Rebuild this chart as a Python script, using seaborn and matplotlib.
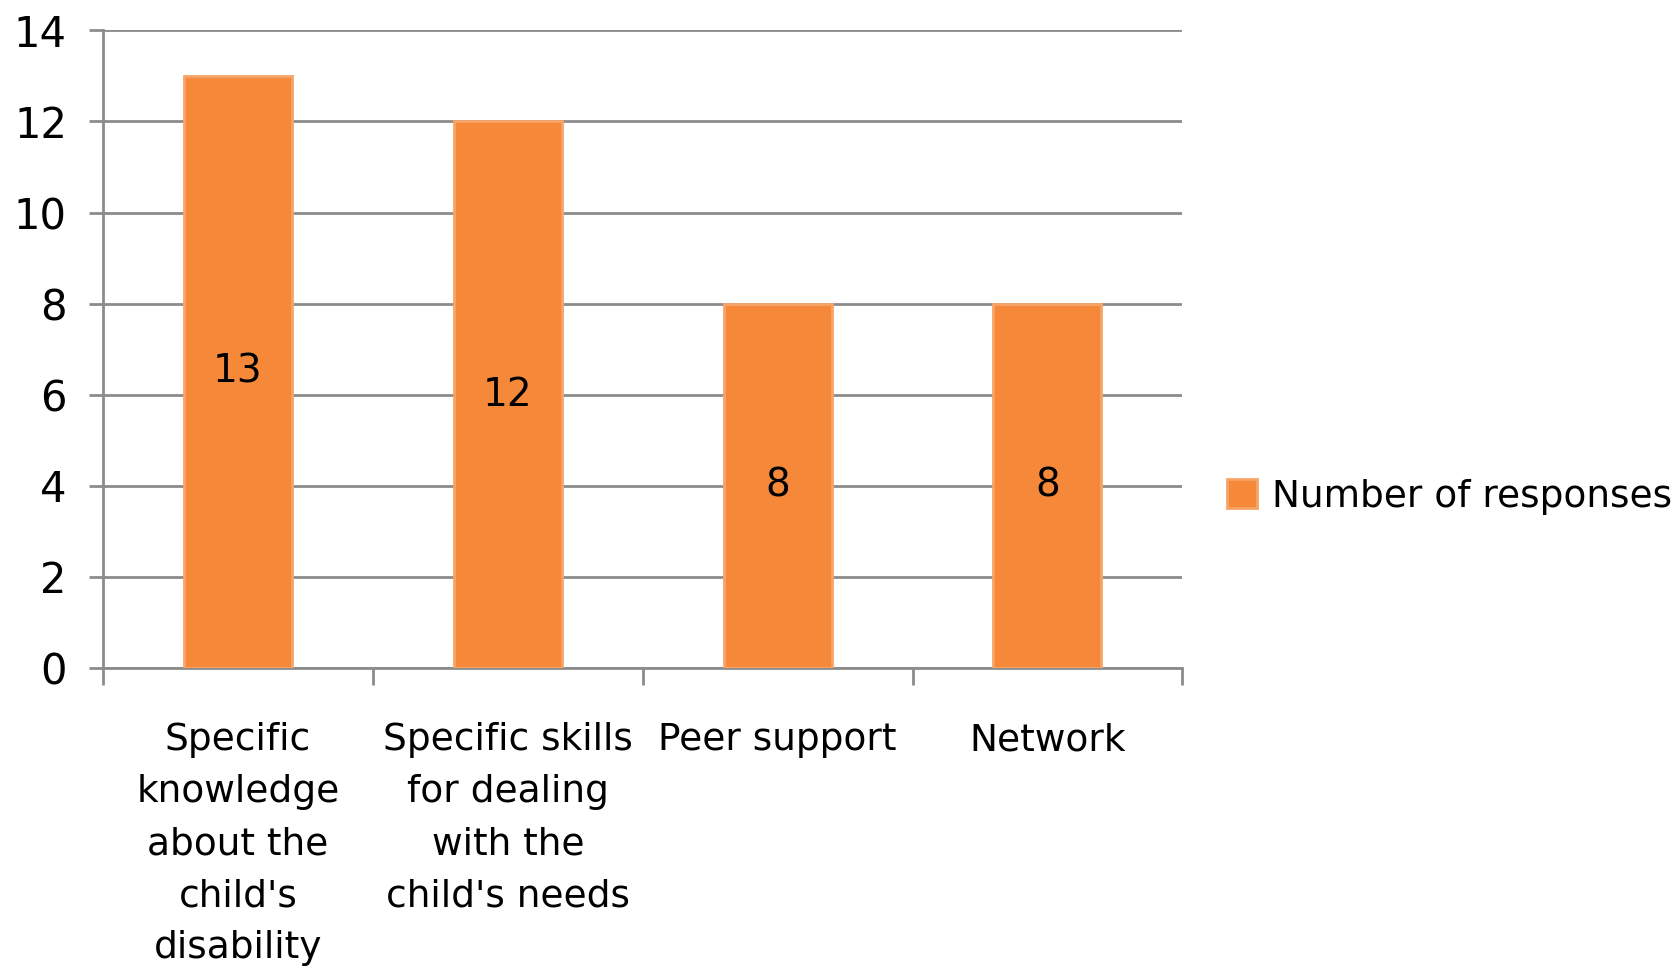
import pandas as pd
import matplotlib.pyplot as plt
import seaborn as sns

categories = [
    "Specific\nknowledge\nabout the\nchild's\ndisability",
    "Specific skills\nfor dealing\nwith the\nchild's needs",
    "Peer support",
    "Network",
]
responses = [13, 12, 8, 8]
series_name = "Number of responses"

df = pd.DataFrame({"category": categories, "value": responses, "series": series_name})

sns.set_style("white")
plt.rcParams["font.family"] = ["DejaVu Sans"]
plt.rcParams["text.color"] = "black"
plt.rcParams["xtick.labelcolor"] = "black"
plt.rcParams["ytick.labelcolor"] = "black"

fig = plt.figure(figsize=(16.8, 9.72), dpi=100)
ax = fig.add_axes([0.0613, 0.3128, 0.6425, 0.656])

sns.barplot(
    data=df, x="category", y="value", hue="series",
    palette=["#F6883A"], saturation=1, width=0.4,
    edgecolor="#F7A468", linewidth=2, ax=ax, zorder=3,
)

for c in ax.containers:
    ax.bar_label(c, label_type="center", fontsize=28, color="black")

grid_c = "#8C8C8C"
ax.set_ylim(0, 14)
ax.set_yticks(range(0, 15, 2))
ax.yaxis.grid(True, color=grid_c, linewidth=2)
ax.set_axisbelow(True)
ax.set_xlim(-0.5, len(categories) - 0.5)
ax.set_xlabel("")
ax.set_ylabel("")

for s in ["top", "right"]:
    ax.spines[s].set_visible(False)
for s in ["left", "bottom"]:
    ax.spines[s].set_color(grid_c)
    ax.spines[s].set_linewidth(2)

# y ticks outward, x ticks between categories
ax.tick_params(axis="y", length=10, width=2, color=grid_c, labelsize=30, pad=16, left=True)
ax.set_xticks(range(len(categories)))
ax.set_xticklabels(categories, fontsize=27, linespacing=1.57, va="top")
ax.tick_params(axis="x", length=0, pad=39)
ax.set_xticks([i - 0.5 for i in range(len(categories) + 1)], minor=True)
ax.tick_params(axis="x", which="minor", length=12, width=2, color=grid_c, bottom=True)

ax.legend(
    loc="center left", bbox_to_anchor=(0.71, 0.489), bbox_transform=fig.transFigure,
    frameon=False, fontsize=27, handlelength=0.8, handleheight=0.8, handletextpad=0.4,
)

fig.savefig("out.png", dpi=100)
